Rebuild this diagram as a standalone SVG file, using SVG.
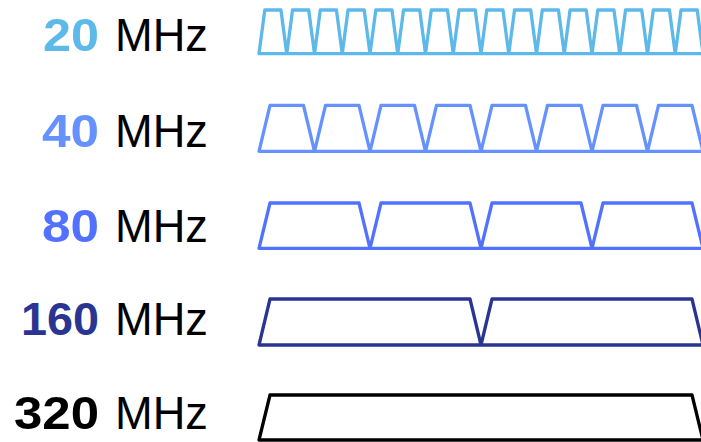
<svg xmlns="http://www.w3.org/2000/svg" width="701" height="442" viewBox="0 0 701 442">
<style>
.num{font-family:"Liberation Sans",Arial,sans-serif;font-weight:700;font-size:46px;text-anchor:end}
.unit{font-family:"Liberation Sans",Arial,sans-serif;font-weight:400;font-size:46px;fill:#000}
.wave{fill:none;stroke-width:3.3;stroke-linejoin:round;stroke-linecap:round}
</style>
<rect width="701" height="442" fill="#fff"/>
<g id="row-20">
<text class="num" x="99" y="51" fill="#5DB9E9" textLength="56" lengthAdjust="spacingAndGlyphs">20</text>
<text class="unit" x="115" y="51" textLength="93" lengthAdjust="spacingAndGlyphs">MHz</text>
<path class="wave" stroke="#5DB9E9" d="M259,53.7 L264.8,10 L280.95,10 L286.75,53.7 L292.55,10 L308.7,10 L314.5,53.7 L320.3,10 L336.45,10 L342.25,53.7 L348.05,10 L364.2,10 L370,53.7 L375.8,10 L391.95,10 L397.75,53.7 L403.55,10 L419.7,10 L425.5,53.7 L431.3,10 L447.45,10 L453.25,53.7 L459.05,10 L475.2,10 L481,53.7 L486.8,10 L502.95,10 L508.75,53.7 L514.55,10 L530.7,10 L536.5,53.7 L542.3,10 L558.45,10 L564.25,53.7 L570.05,10 L586.2,10 L592,53.7 L597.8,10 L613.95,10 L619.75,53.7 L625.55,10 L641.7,10 L647.5,53.7 L653.3,10 L669.45,10 L675.25,53.7 L681.05,10 L697.2,10 L703,53.7 Z"/>
</g>
<g id="row-40">
<text class="num" x="99" y="147" fill="#6592FF" textLength="57" lengthAdjust="spacingAndGlyphs">40</text>
<text class="unit" x="115" y="147" textLength="93" lengthAdjust="spacingAndGlyphs">MHz</text>
<path class="wave" stroke="#6592FF" d="M259,151.3 L270,105.3 L303.5,105.3 L314.5,151.3 L325.5,105.3 L359,105.3 L370,151.3 L381,105.3 L414.5,105.3 L425.5,151.3 L436.5,105.3 L470,105.3 L481,151.3 L492,105.3 L525.5,105.3 L536.5,151.3 L547.5,105.3 L581,105.3 L592,151.3 L603,105.3 L636.5,105.3 L647.5,151.3 L658.5,105.3 L692,105.3 L703,151.3 Z"/>
</g>
<g id="row-80">
<text class="num" x="99" y="242" fill="#5271FF" textLength="57" lengthAdjust="spacingAndGlyphs">80</text>
<text class="unit" x="115" y="242" textLength="93" lengthAdjust="spacingAndGlyphs">MHz</text>
<path class="wave" stroke="#5271FF" d="M259,248.3 L270,203 L359,203 L370,248.3 L381,203 L470,203 L481,248.3 L492,203 L581,203 L592,248.3 L603,203 L692,203 L703,248.3 Z"/>
</g>
<g id="row-160">
<text class="num" x="99" y="335" fill="#2A3593" textLength="78" lengthAdjust="spacingAndGlyphs">160</text>
<text class="unit" x="115" y="335" textLength="93" lengthAdjust="spacingAndGlyphs">MHz</text>
<path class="wave" stroke="#2A3593" d="M259,345 L270,299 L470,299 L481,345 L492,299 L692,299 L703,345 Z"/>
</g>
<g id="row-320">
<text class="num" x="99" y="429" fill="#000" textLength="85" lengthAdjust="spacingAndGlyphs">320</text>
<text class="unit" x="115" y="429" textLength="93" lengthAdjust="spacingAndGlyphs">MHz</text>
<path class="wave" stroke="#000" d="M259,440 L270,395 L692,395 L703,440 Z"/>
</g>
<g id="connectors"/>
</svg>
